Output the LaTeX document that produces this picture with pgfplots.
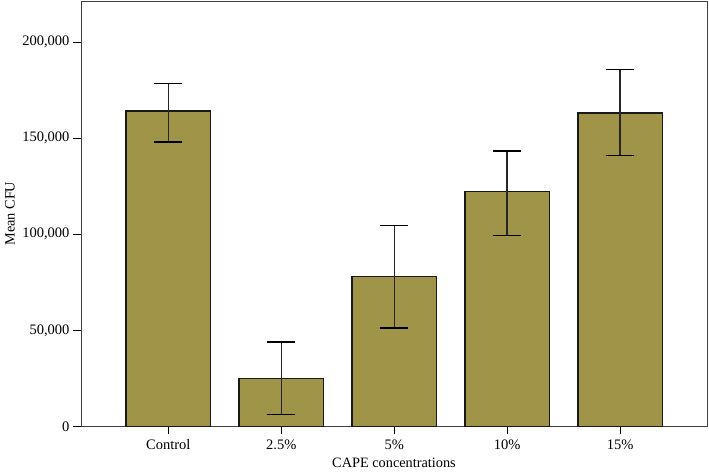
\documentclass[border=0pt]{standalone}
\usepackage{fontspec}
\setmainfont{Liberation Serif}
\usepackage{pgfplots}
\usepackage{pgfplotstable}
\pgfplotsset{compat=1.18}
\definecolor{barolive}{RGB}{160,148,72}
\pgfplotstableread{
x y ep em
0 164200 14200 16200
1 25000 18900 18750
2 78100 26400 26900
3 122200 21200 22900
4 163200 22500 22300
}\cfudata
\begin{document}
\begin{tikzpicture}
\begin{axis}[
  scale only axis,
  width=626pt, height=425.3pt,
  xmin=-0.773, xmax=4.77,
  ymin=0, ymax=221500,
  xtick={0,1,2,3,4},
  xticklabels={Control,2.5\%,5\%,10\%,15\%},
  ytick={0,50000,100000,150000,200000},
  yticklabels={0,{50,000},{100,000},{150,000},{200,000}},
  scaled y ticks=false,
  tick pos=left,
  tick align=outside,
  major tick length=8pt,
  tick style={black, line width=0.9pt},
  axis line style={draw=black!75, line width=0.9pt},
  tick label style={font=\fontsize{14.5}{16}\selectfont},
  xticklabel style={yshift=-2pt},
  label style={font=\fontsize{14.3}{16}\selectfont},
  xlabel={CAPE concentrations},
  ylabel={Mean CFU},
  xlabel style={at={(axis description cs:0.5,-0.085)}, anchor=center},
  ylabel style={at={(axis description cs:-0.1134,0.5)}, anchor=center},
  ybar, bar width=84.5pt,
]
\addplot[fill=barolive, draw=black!90, line width=1.5pt,
  error bars/.cd, y dir=both, y explicit,
  error bar style={black!85, line width=1.3pt},
  error mark options={rotate=90, mark size=14pt, line width=1.4pt, black}]
  table[x=x, y=y, y error plus=ep, y error minus=em] {\cfudata};
\end{axis}
\pgfresetboundingbox
\path[use as bounding box] (-81pt,-44.7pt) rectangle (628pt,426.3pt);
\end{tikzpicture}
\end{document}
